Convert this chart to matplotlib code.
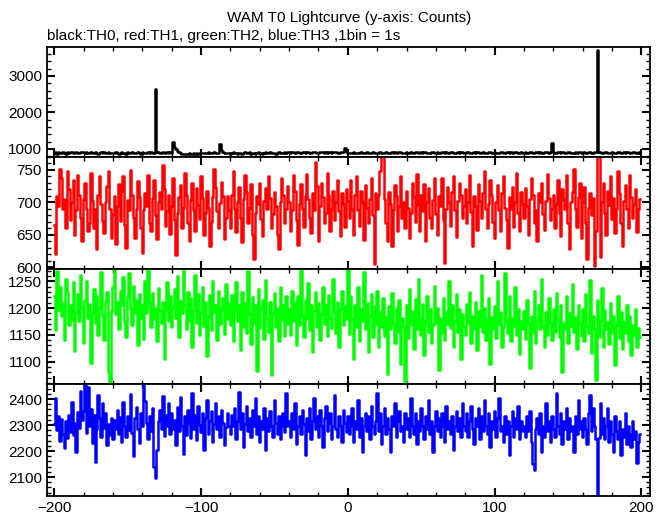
import matplotlib.pyplot as plt
from matplotlib.ticker import MultipleLocator
import numpy as np

plt.rcParams['font.family'] = ['Liberation Sans', 'DejaVu Sans']

# TH0 counts (black), 1 s bins starting at t = -200
th0 = [
    880, 905, 870, 915, 895, 885, 920, 900, 875, 910, 890, 905, 925, 895, 880, 915, 900, 890, 920, 905,
    910, 895, 915, 900, 885, 905, 895, 880, 910, 890, 875, 900, 915, 895, 905, 880, 890, 910, 900, 885,
    895, 880, 905, 890, 875, 900, 910, 885, 895, 870, 905, 890, 880, 915, 895, 900, 885, 905, 890, 875,
    910, 895, 880, 900, 915, 890, 905, 885, 900, 2630, 910, 905, 890, 880, 905, 895, 900, 915, 890, 905,
    900, 1180, 1060, 990, 945, 905, 880, 865, 870, 855, 875, 860, 880, 870, 865, 885, 875, 890, 870, 880,
    895, 885, 900, 880, 895, 910, 890, 900, 885, 905, 895, 880, 900, 1140, 960, 905, 890, 880, 900, 885,
    870, 895, 905, 880, 890, 875, 900, 885, 870, 895, 910, 880, 890, 905, 875, 885, 900, 870, 890, 905,
    895, 880, 870, 900, 915, 890, 880, 905, 895, 885, 900, 875, 890, 910, 895, 880, 900, 920, 895, 905,
    915, 900, 925, 905, 890, 910, 920, 900, 885, 905, 915, 895, 910, 925, 900, 890, 905, 920, 910, 895,
    900, 915, 930, 905, 890, 910, 900, 920, 905, 895, 910, 925, 915, 900, 890, 905, 915, 930, 1020, 935,
    880, 900, 895, 885, 905, 890, 900, 880, 895, 910, 900, 885, 895, 905, 890, 880, 900, 915, 895, 885,
    900, 890, 905, 895, 880, 900, 910, 890, 900, 885, 905, 895, 915, 900, 890, 905, 920, 895, 900, 890,
    905, 890, 900, 915, 895, 880, 905, 920, 900, 890, 910, 895, 905, 925, 900, 885, 900, 915, 905, 890,
    895, 910, 900, 885, 905, 920, 895, 905, 890, 900, 915, 905, 895, 880, 900, 910, 890, 905, 915, 900,
    890, 905, 915, 895, 880, 900, 910, 895, 905, 920, 900, 890, 905, 895, 880, 900, 915, 905, 890, 900,
    910, 895, 885, 900, 915, 905, 890, 900, 920, 905, 895, 910, 900, 885, 905, 915, 900, 890, 905, 895,
    900, 910, 895, 885, 905, 920, 900, 890, 910, 905, 895, 915, 900, 890, 905, 920, 910, 895, 905, 1170,
    930, 900, 890, 910, 905, 895, 915, 925, 900, 890, 905, 915, 900, 885, 900, 910, 895, 905, 920, 900,
    895, 910, 900, 885, 905, 915, 900, 890, 905, 910, 3700, 930, 920, 900, 890, 905, 915, 895, 885, 900,
    910, 895, 880, 900, 915, 905, 890, 900, 910, 895, 905, 920, 900, 890, 905, 915, 900, 885, 905, 895,
]

# TH1 counts (red)
th1 = [
    665, 620, 710, 695, 752, 738, 690, 705, 660, 748, 720, 672, 700, 735, 650, 688, 742, 712, 676, 640,
    705, 730, 690, 655, 668, 745, 702, 660, 690, 628, 712, 740, 698, 671, 652, 700, 725, 748, 690, 645,
    682, 710, 636, 694, 728, 671, 718, 740, 665, 630, 704, 688, 750, 712, 676, 645, 690, 733, 708, 660,
    622, 688, 714, 695, 742, 668, 656, 706, 735, 680, 643, 700, 716, 690, 758, 720, 664, 686, 712, 651,
    695, 738, 672, 618, 684, 708, 726, 660, 692, 745, 712, 668, 640, 704, 730, 688, 655, 722, 696, 674,
    741, 706, 650, 684, 717, 692, 632, 670, 708, 752, 723, 686, 660, 699, 732, 710, 644, 676, 710, 688,
    660, 712, 748, 690, 654, 700, 724, 676, 638, 705, 742, 716, 668, 692, 728, 650, 612, 684, 710, 698,
    730, 674, 648, 702, 722, 690, 740, 706, 660, 682, 716, 695, 650, 628, 700, 738, 712, 668, 690, 725,
    700, 656, 688, 742, 718, 672, 634, 698, 728, 690, 662, 710, 744, 705, 676, 652, 715, 688, 762, 725,
    640, 695, 730, 708, 668, 684, 746, 712, 655, 690, 718, 672, 700, 735, 686, 648, 714, 698, 662, 720,
    702, 676, 734, 690, 650, 712, 740, 688, 664, 718, 700, 642, 726, 692, 668, 705, 738, 680, 605, 715,
    690, 712, 748, 775, 771, 705, 668, 640, 716, 698, 632, 688, 726, 710, 655, 694, 740, 676, 700, 660,
    718, 692, 645, 684, 730, 708, 670, 744, 696, 655, 712, 686, 728, 640, 700, 722, 676, 660, 704, 738,
    682, 650, 710, 695, 738, 672, 606, 690, 724, 700, 664, 716, 740, 688, 646, 702, 730, 712, 676, 694,
    720, 668, 700, 742, 685, 632, 710, 694, 658, 728, 702, 676, 715, 748, 690, 660, 698, 735, 712, 670,
    645, 700, 726, 688, 655, 714, 740, 692, 672, 630, 708, 690, 724, 662, 700, 745, 684, 656, 716, 698,
    676, 722, 694, 650, 705, 738, 712, 668, 688, 640, 715, 700, 730, 682, 658, 702, 744, 706, 672, 690,
    712, 660, 698, 734, 684, 648, 720, 705, 690, 742, 668, 628, 700, 716, 752, 690, 662, 708, 730, 645,
    700, 724, 668, 612, 692, 715, 680, 706, 602, 655, 776, 772, 615, 700, 730, 684, 650, 718, 696, 740,
    674, 706, 652, 690, 748, 715, 668, 632, 702, 726, 690, 660, 742, 708, 676, 698, 720, 654, 690, 705,
]

# TH2 counts (green)
th2 = [
    1222, 1158, 1270, 1196, 1240, 1185, 1210, 1140, 1255, 1230, 1168, 1205, 1178, 1248, 1120, 1192, 1226, 1175, 1262, 1200,
    1135, 1215, 1250, 1182, 1208, 1098, 1190, 1236, 1172, 1222, 1150, 1200, 1268, 1185, 1140, 1214, 1230, 1080, 1062, 1195,
    1240, 1276, 1188, 1212, 1160, 1232, 1205, 1258, 1174, 1145, 1220, 1265, 1198, 1168, 1242, 1190, 1215, 1130, 1226, 1182,
    1205, 1142, 1250, 1190, 1272, 1210, 1165, 1228, 1180, 1200, 1138, 1238, 1195, 1172, 1212, 1104, 1196, 1248, 1176, 1222,
    1164, 1200, 1236, 1182, 1260, 1145, 1214, 1190, 1275, 1205, 1160, 1230, 1176, 1218, 1128, 1196, 1262, 1172, 1226, 1150,
    1190, 1240, 1166, 1212, 1110, 1184, 1225, 1158, 1250, 1192, 1205, 1140, 1232, 1170, 1198, 1218, 1152, 1244, 1180, 1210,
    1168, 1225, 1138, 1196, 1248, 1176, 1205, 1122, 1230, 1164, 1210, 1154, 1270, 1188, 1132, 1220, 1172, 1205, 1082, 1236,
    1162, 1198, 1215, 1142, 1252, 1180, 1156, 1212, 1075, 1190, 1228, 1165, 1200, 1138, 1240, 1178, 1206, 1148, 1222, 1170,
    1198, 1150, 1232, 1176, 1212, 1130, 1222, 1168, 1272, 1185, 1145, 1215, 1180, 1246, 1158, 1205, 1118, 1194, 1230, 1165,
    1210, 1140, 1188, 1240, 1170, 1206, 1148, 1224, 1182, 1162, 1255, 1192, 1154, 1212, 1128, 1198, 1232, 1168, 1204, 1180,
    1275, 1152, 1222, 1180, 1105, 1205, 1165, 1240, 1138, 1198, 1176, 1268, 1160, 1210, 1118, 1186, 1226, 1145, 1204, 1170,
    1232, 1128, 1192, 1164, 1218, 1148, 1184, 1076, 1204, 1160, 1228, 1170, 1135, 1200, 1155, 1215, 1095, 1182, 1165, 1058,
    1206, 1144, 1235, 1170, 1195, 1124, 1216, 1160, 1255, 1180, 1150, 1208, 1112, 1176, 1222, 1156, 1198, 1134, 1168, 1242,
    1172, 1200, 1085, 1182, 1154, 1218, 1140, 1192, 1170, 1250, 1162, 1205, 1128, 1176, 1226, 1155, 1198, 1104, 1188, 1166,
    1150, 1208, 1172, 1230, 1134, 1186, 1160, 1212, 1122, 1194, 1166, 1262, 1155, 1200, 1140, 1178, 1218, 1095, 1184, 1160,
    1204, 1144, 1250, 1170, 1192, 1128, 1165, 1265, 1178, 1154, 1222, 1138, 1182, 1166, 1240, 1150, 1198, 1114, 1176, 1160,
    1194, 1142, 1215, 1172, 1088, 1186, 1155, 1232, 1134, 1178, 1205, 1160, 1255, 1166, 1128, 1192, 1150, 1218, 1172, 1140,
    1198, 1155, 1228, 1178, 1145, 1205, 1080, 1172, 1160, 1222, 1135, 1190, 1166, 1245, 1155, 1184, 1124, 1206, 1170, 1148,
    1198, 1138, 1226, 1166, 1154, 1252, 1115, 1186, 1160, 1065, 1215, 1146, 1178, 1238, 1128, 1196, 1160, 1174, 1132, 1210,
    1156, 1186, 1094, 1168, 1222, 1144, 1192, 1124, 1174, 1154, 1205, 1138, 1186, 1112, 1168, 1150, 1198, 1128, 1162, 1145,
]

# TH3 counts (blue)
th3 = [
    2305, 2405, 2280, 2335, 2238, 2322, 2265, 2210, 2315, 2250, 2340, 2275, 2390, 2262, 2308, 2195, 2352, 2288, 2430, 2318,
    2355, 2455, 2270, 2445, 2296, 2362, 2232, 2338, 2158, 2285, 2415, 2326, 2255, 2385, 2290, 2345, 2225, 2305, 2262, 2328,
    2245, 2318, 2284, 2356, 2265, 2330, 2236, 2388, 2298, 2255, 2335, 2280, 2420, 2268, 2182, 2326, 2368, 2286, 2232, 2348,
    2298, 2455, 2392, 2306, 2248, 2336, 2276, 2365, 2140, 2098, 2205, 2315, 2356, 2285, 2410, 2258, 2338, 2295, 2385, 2265,
    2345, 2284, 2318, 2225, 2368, 2276, 2408, 2296, 2188, 2336, 2262, 2358, 2305, 2250, 2425, 2286, 2338, 2242, 2375, 2302,
    2275, 2346, 2205, 2326, 2398, 2265, 2316, 2355, 2236, 2304, 2385, 2285, 2336, 2255, 2358, 2308, 2225, 2292, 2345, 2296,
    2265, 2338, 2296, 2366, 2246, 2316, 2428, 2285, 2345, 2215, 2305, 2375, 2276, 2326, 2255, 2356, 2296, 2405, 2266, 2335,
    2236, 2316, 2285, 2365, 2205, 2326, 2276, 2355, 2296, 2255, 2395, 2306, 2265, 2336, 2245, 2298, 2345, 2275, 2425, 2296,
    2316, 2255, 2346, 2285, 2385, 2226, 2296, 2336, 2265, 2356, 2305, 2185, 2326, 2276, 2365, 2246, 2316, 2405, 2286, 2336,
    2255, 2356, 2296, 2215, 2326, 2375, 2276, 2306, 2345, 2245, 2296, 2415, 2285, 2255, 2336, 2296, 2236, 2356, 2306, 2275,
    2336, 2265, 2296, 2365, 2236, 2316, 2285, 2395, 2255, 2326, 2196, 2296, 2345, 2276, 2336, 2246, 2375, 2296, 2265, 2316,
    2425, 2276, 2345, 2226, 2296, 2365, 2265, 2326, 2285, 2195, 2336, 2296, 2385, 2255, 2316, 2355, 2276, 2296, 2236, 2345,
    2285, 2326, 2255, 2405, 2296, 2265, 2345, 2226, 2316, 2276, 2365, 2296, 2245, 2336, 2285, 2395, 2265, 2316, 2195, 2296,
    2355, 2276, 2326, 2255, 2345, 2296, 2236, 2375, 2285, 2316, 2265, 2336, 2205, 2296, 2355, 2276, 2326, 2255, 2385, 2296,
    2276, 2345, 2255, 2316, 2375, 2285, 2226, 2326, 2296, 2365, 2245, 2336, 2276, 2395, 2296, 2265, 2345, 2215, 2316, 2285,
    2355, 2255, 2326, 2405, 2276, 2296, 2236, 2336, 2265, 2316, 2185, 2296, 2355, 2255, 2326, 2285, 2375, 2245, 2316, 2276,
    2296, 2255, 2336, 2276, 2355, 2236, 2150, 2128, 2285, 2326, 2265, 2345, 2196, 2296, 2255, 2385, 2276, 2316, 2236, 2336,
    2285, 2255, 2425, 2296, 2265, 2345, 2226, 2316, 2285, 2365, 2245, 2326, 2276, 2296, 2196, 2336, 2265, 2395, 2285, 2316,
    2255, 2326, 2285, 2226, 2345, 2415, 2276, 2365, 2296, 2245, 2030, 2250, 2385, 2265, 2326, 2245, 2296, 2365, 2236, 2316,
    2265, 2196, 2336, 2276, 2245, 2316, 2185, 2285, 2255, 2345, 2226, 2296, 2265, 2215, 2316, 2245, 2276, 2155, 2236, 2265,
]

series = [th0, th1, th2, th3]
colors = ['black', 'red', '#00ff00', 'blue']
ylims = [(780, 3790), (597, 770), (1058, 1273), (2027, 2458)]
major = [1000, 50, 50, 100]
minor = [200, 10, 10, 20]

fig = plt.figure(figsize=(6.69, 5.15), dpi=100)
edges = [0.9087, 0.6951, 0.4777, 0.2544, 0.0369]
left, width = 0.070, 0.902

for k in range(4):
    ax = fig.add_axes([left, edges[k + 1], width, edges[k] - edges[k + 1]])
    y = series[k]
    t = np.arange(-200, -200 + len(y))
    ax.plot(t, y, color=colors[k], lw=1.8, drawstyle='steps-mid')
    ax.set_xlim(-205, 206)
    ax.set_ylim(*ylims[k])
    ax.xaxis.set_major_locator(MultipleLocator(100))
    ax.xaxis.set_minor_locator(MultipleLocator(20))
    ax.yaxis.set_major_locator(MultipleLocator(major[k]))
    ax.yaxis.set_minor_locator(MultipleLocator(minor[k]))
    ax.tick_params(which='both', direction='in', top=True, right=True, labelsize=11)
    ax.tick_params(which='major', length=6, width=1.5)
    ax.tick_params(which='minor', length=3, width=1.0)
    for s in ax.spines.values():
        s.set_linewidth(1.3)
    if k < 3:
        ax.set_xticklabels([])

fig.text(0.522, 0.965, 'WAM T0 Lightcurve (y-axis: Counts)', ha='center', va='center', fontsize=11)
fig.text(0.070, 0.93, 'black:TH0, red:TH1, green:TH2, blue:TH3 ,1bin = 1s', ha='left', va='center', fontsize=11)

fig.savefig('out.png', dpi=100)
